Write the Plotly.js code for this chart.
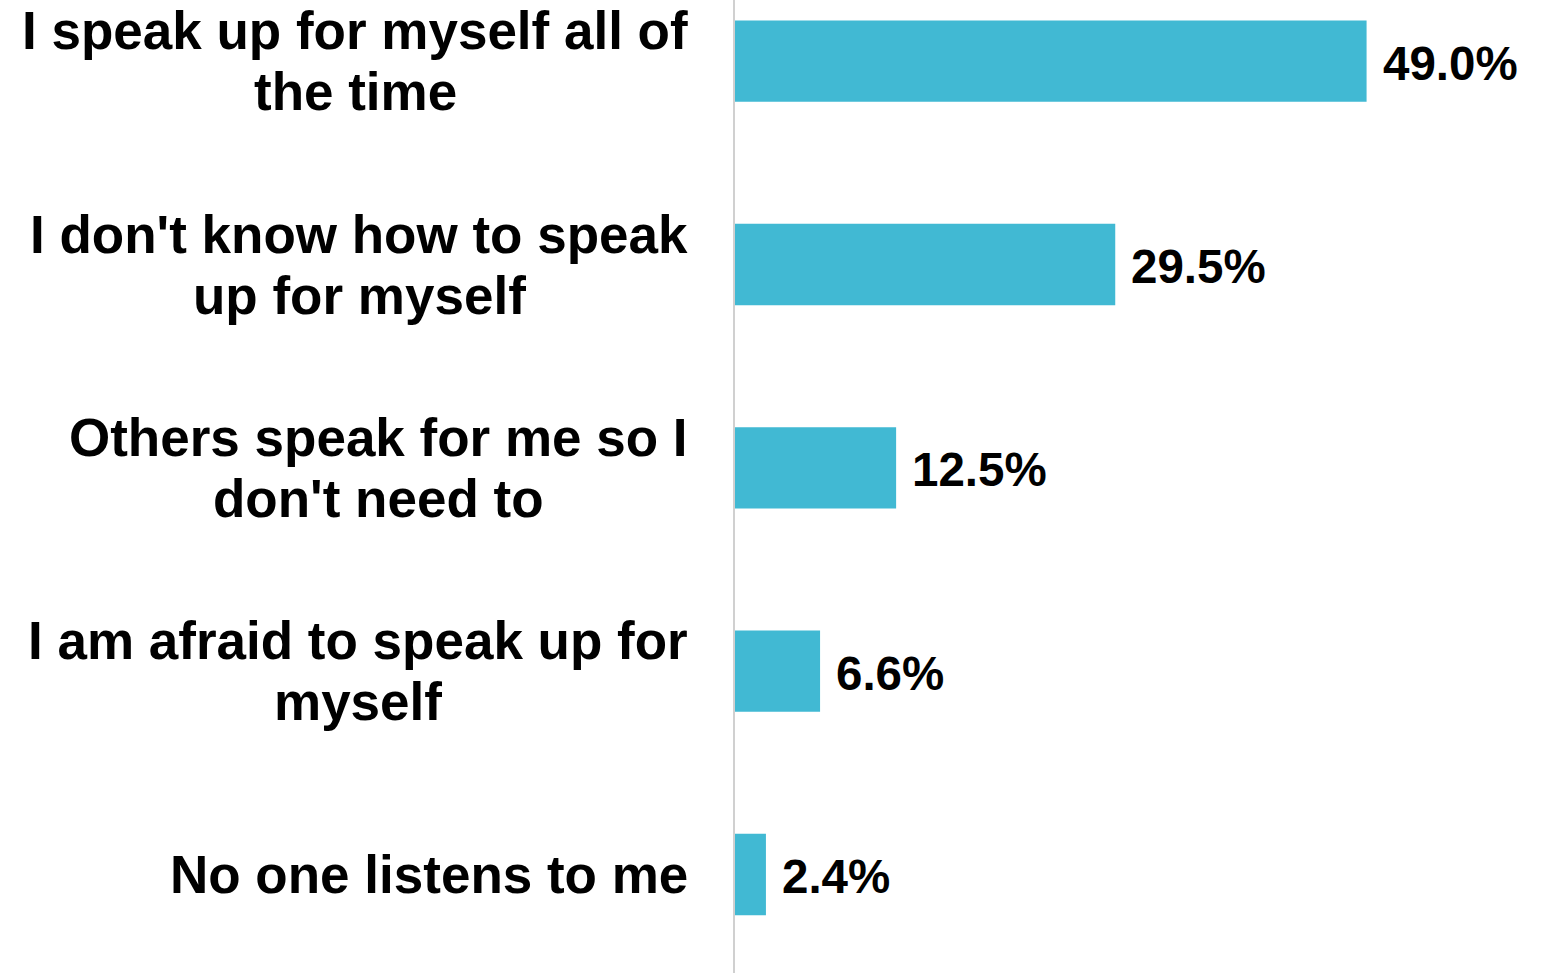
<!DOCTYPE html>
<html>
<head>
<meta charset="utf-8">
<script src="https://cdn.plot.ly/plotly-3.0.1.min.js"></script>
<style>
html,body{margin:0;padding:0;background:#fff;}
#chart{width:1546px;height:973px;}
</style>
</head>
<body>
<div id="chart"></div>
<script>
// Data
const categories = [
  "I speak up for myself all of<br>the time",
  "I don't know how to speak<br>up for myself",
  "Others speak for me so I<br>don't need to",
  "I am afraid to speak up for<br>myself",
  "No one listens to me"
];
const values = [49.0, 29.5, 12.5, 6.6, 2.4];
const valueLabels = ["49.0%", "29.5%", "12.5%", "6.6%", "2.4%"];

const barColor = "#41B9D3";
const fontFamily = '"Liberation Sans", Arial, sans-serif';
const labelSize = 53;
const valueSize = 47.5;
const lineGap = 61;
const labelRightPx = 688;
const plotLeft = 735;

const canvas = document.createElement('canvas');
const ctx = canvas.getContext('2d');
ctx.font = 'bold ' + labelSize + 'px "Liberation Sans", Arial, sans-serif';

const annotations = [];
categories.forEach((cat, i) => {
  const lines = cat.split('<br>');
  const w = Math.max(...lines.map(l => ctx.measureText(l).width));
  const cx = labelRightPx - w / 2;
  lines.forEach((ln, j) => {
    const off = (lines.length - 1) / 2 - j;
    annotations.push({
      xref: 'paper', yref: 'y', x: 0, y: cat,
      xshift: cx - plotLeft, yshift: off * lineGap,
      xanchor: 'center', yanchor: 'middle',
      text: ln, showarrow: false,
      font: {family: fontFamily, size: labelSize, color: '#000', weight: 'bold'}
    });
  });
  annotations.push({
    xref: 'x', yref: 'y', x: values[i], y: cat,
    xanchor: 'left', yanchor: 'middle', xshift: 14, yshift: -2,
    text: valueLabels[i], showarrow: false,
    font: {family: fontFamily, size: valueSize, color: '#000', weight: 'bold'}
  });
});

const trace = {
  type: 'bar',
  orientation: 'h',
  x: values,
  y: categories,
  width: 0.4,
  marker: {color: barColor},
  hoverinfo: 'skip'
};

const layout = {
  width: 1546, height: 973,
  margin: {l: plotLeft, r: 0, t: 0, b: 0, pad: 0},
  paper_bgcolor: '#fff', plot_bgcolor: '#fff',
  showlegend: false,
  xaxis: {range: [0, 62.92], showgrid: false, zeroline: false, showline: false,
          showticklabels: false, ticks: ''},
  yaxis: {type: 'category', categoryorder: 'array', categoryarray: categories,
          range: [4.4845, -0.301], showgrid: false, zeroline: false,
          showline: true, linecolor: '#d0d0d0', linewidth: 2,
          showticklabels: false, ticks: ''},
  annotations: annotations
};

Plotly.newPlot('chart', [trace], layout, {displayModeBar: false, staticPlot: true});
</script>
</body>
</html>
